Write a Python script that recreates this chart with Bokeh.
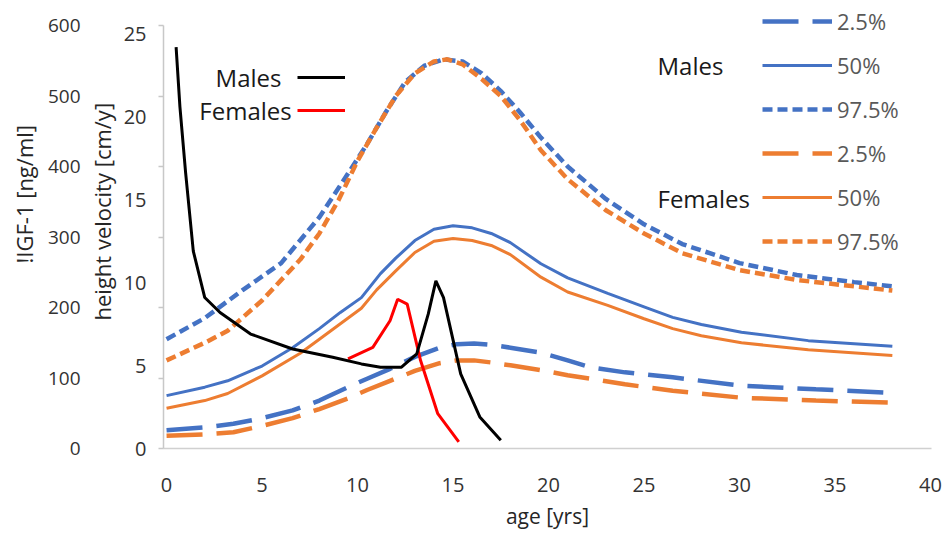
from bokeh.plotting import figure
from bokeh.models import Range1d, LinearAxis, FixedTicker, Label, Legend, LegendItem, Title
from bokeh.embed import file_html
from bokeh.resources import INLINE

# ---------------- data ----------------
age_ticks = [0, 5, 10, 15, 20, 25, 30, 35, 40]
hv_ticks = [0, 5, 10, 15, 20, 25]
igf_ticks = [0, 100, 200, 300, 400, 500, 600]

# IGF-1 [ng/ml], males
m975_age = [0, 2, 4, 6, 8, 9.5, 10.5, 11.5, 12.5, 13.5, 14.5, 15.5, 16.5, 17.5, 18.5, 19.6, 21, 23, 25, 27, 30, 33, 36, 38]
m975_val = [155, 185, 225, 263, 328, 390, 432, 478, 520, 543, 552, 549, 532, 507, 477, 441, 400, 354, 318, 290, 263, 246, 236, 230]
m50_age = [0, 2, 3.2, 5, 6.6, 8, 9.1, 10.2, 11.2, 12, 13, 14, 15, 16, 17, 18, 19.6, 21, 23.1, 25, 26.5, 28, 30.1, 33.6, 38]
m50_val = [75, 87, 96, 117, 143, 170, 193, 214, 248, 270, 295, 311, 316, 313, 305, 292, 262, 242, 220, 201, 186, 176, 165, 153, 145]
m25_age = [0, 2, 3.5, 5, 6.6, 8, 9.5, 10.5, 11.7, 13, 14.3, 15.2, 16.1, 17, 18, 19.6, 21, 22.2, 24, 26.5, 30.1, 34, 38]
m25_val = [26, 30, 35, 43, 54, 68, 87, 99, 113, 130, 143, 148, 149, 147, 143, 136, 125, 115, 108, 101, 89, 84, 79]

# IGF-1 [ng/ml], females
f975_age = [0, 2, 3.2, 5, 7, 8, 9, 10, 11, 12, 13, 14, 14.7, 15.5, 16.5, 17.5, 18.5, 19.6, 21, 23, 25, 27, 30, 33, 36, 38]
f975_val = [125, 150, 167, 210, 268, 305, 352, 408, 455, 500, 532, 549, 552, 545, 524, 500, 466, 423, 382, 338, 305, 277, 253, 239, 230, 224]
f50_age = [0, 2, 3.2, 5, 7, 8, 9.1, 10.2, 11, 12, 13, 14, 15, 16, 17, 18, 19.6, 21, 23.1, 25, 26.5, 28, 30.1, 33.6, 38]
f50_val = [57, 68, 78, 103, 135, 155, 177, 199, 225, 252, 278, 294, 298, 295, 288, 275, 243, 222, 203, 184, 170, 160, 150, 140, 132]
f25_age = [0, 2, 3.5, 5, 6.6, 8, 9.5, 10.5, 11.7, 13, 14.3, 15.2, 16.1, 17, 18, 19.6, 21, 22.2, 24, 26.5, 30.1, 34, 38]
f25_val = [18, 20, 23, 32, 43, 56, 71, 83, 96, 110, 121, 125, 125, 122, 118, 111, 104, 99, 91, 82, 72, 68, 65]

# height velocity [cm/y]
hv_m_age = [0.5, 0.7, 1.0, 1.4, 2.0, 2.8, 4.4, 6.6, 8.7, 10.2, 11.2, 12.3, 13.1, 13.7, 14.1, 14.5, 15.4, 16.4, 17.5]
hv_m_val = [24.2, 20.6, 16.6, 11.9, 9.1, 8.2, 6.9, 6.0, 5.5, 5.1, 4.9, 4.9, 5.7, 8.1, 10.1, 9.1, 4.5, 1.9, 0.5]
hv_f_age = [9.5, 10.8, 11.7, 12.1, 12.6, 13.3, 14.2, 15.3]
hv_f_val = [5.4, 6.1, 7.7, 9.0, 8.7, 5.3, 2.1, 0.4]

HV_MAX = 25.5
IGF_MAX = 600

# ---------------- styles ----------------
FONT = "Open Sans"
BLUE = "#4472C4"
ORANGE = "#ED7D31"
RED = "#FF0000"
LONG = "36 14"
SHORT = "10 5"
TOP_PAD = 448.0 / 423.0   # frame extends a little above the axes' top

p = figure(width=948, height=533, output_backend="svg", toolbar_location=None,
           x_range=Range1d(-0.16, 40.05), y_range=Range1d(0, HV_MAX * TOP_PAD),
           min_border_left=163, min_border_right=17, min_border_top=0, min_border_bottom=85)
p.extra_y_ranges = {"igf": Range1d(0, IGF_MAX * TOP_PAD)}
p.outline_line_color = None
p.grid.visible = False
p.background_fill_color = "white"
p.border_fill_color = "white"

# x axis
xa = p.xaxis[0]
xa.ticker = FixedTicker(ticks=age_ticks)
xa.axis_line_color = "#d0d0d0"
xa.axis_line_width = 1.5
xa.major_tick_out = 0
xa.major_tick_in = 0
xa.minor_tick_out = 0
xa.minor_tick_line_color = None
xa.major_label_standoff = 29
xa.major_label_text_font = FONT
xa.major_label_text_font_size = "20px"
xa.major_label_text_color = "#333333"
xa.axis_label = "age [yrs]"
xa.axis_label_standoff = 7
xa.axis_label_text_font = FONT
xa.axis_label_text_font_size = "21px"
xa.axis_label_text_font_style = "normal"
xa.axis_label_text_color = "#262626"

# inner y axis: height velocity (tick marks at IGF positions)
ya = p.yaxis[0]
ya.bounds = (0, HV_MAX)
ya.ticker = FixedTicker(ticks=hv_ticks, minor_ticks=[t * HV_MAX / IGF_MAX for t in igf_ticks])
ya.axis_line_color = "#c8c8c8"
ya.axis_line_width = 1.5
ya.major_tick_out = 0
ya.major_tick_in = 0
ya.minor_tick_out = 5
ya.minor_tick_in = 0
ya.minor_tick_line_color = "#c8c8c8"
ya.minor_tick_line_width = 1.5
ya.major_label_standoff = 12
ya.major_label_text_font = FONT
ya.major_label_text_font_size = "20px"
ya.major_label_text_color = "#333333"

# outer y axis: IGF-1
igf_ax = LinearAxis(y_range_name="igf", ticker=FixedTicker(ticks=igf_ticks), bounds=(0, IGF_MAX))
igf_ax.axis_line_color = None
igf_ax.major_tick_line_color = None
igf_ax.minor_tick_line_color = None
igf_ax.major_tick_out = 0
igf_ax.major_tick_in = 0
igf_ax.minor_tick_out = 0
igf_ax.minor_tick_in = 0
igf_ax.major_label_standoff = 1
igf_ax.major_label_text_font = FONT
igf_ax.major_label_text_font_size = "19px"
igf_ax.major_label_text_color = "#333333"

# vertical axis titles as side titles (positioned along the side with offset)
hv_title = Title(text="height velocity [cm/y]", align="left", offset=128, standoff=7,
                 text_font=FONT, text_font_size="22px", text_font_style="normal", text_color="#262626")
igf_title = Title(text="!IGF-1 [ng/ml]", align="left", offset=185, standoff=12,
                  text_font=FONT, text_font_size="22px", text_font_style="normal", text_color="#262626")
p.left = [ya, hv_title, igf_ax, igf_title]

# IGF-1 curves
r_m25 = p.line(m25_age, m25_val, y_range_name="igf", color=BLUE, line_width=4.5, line_dash=LONG)
r_m50 = p.line(m50_age, m50_val, y_range_name="igf", color=BLUE, line_width=3)
r_m975 = p.line(m975_age, m975_val, y_range_name="igf", color=BLUE, line_width=4.5, line_dash=SHORT)
r_f25 = p.line(f25_age, f25_val, y_range_name="igf", color=ORANGE, line_width=4.5, line_dash=LONG)
r_f50 = p.line(f50_age, f50_val, y_range_name="igf", color=ORANGE, line_width=3)
r_f975 = p.line(f975_age, f975_val, y_range_name="igf", color=ORANGE, line_width=4.5, line_dash=SHORT)

# height velocity curves
r_red = p.line(hv_f_age, hv_f_val, color=RED, line_width=3)
r_black = p.line(hv_m_age, hv_m_val, color="black", line_width=3)

# legend: height velocity (label texts drawn separately, left of the samples)
leg_hv = Legend(items=[LegendItem(label="", renderers=[r_black]),
                       LegendItem(label="", renderers=[r_red])],
                location=(134, 328), orientation="vertical",
                glyph_width=48, glyph_height=20, label_height=20, label_width=1,
                spacing=13, padding=0, margin=0, label_standoff=0,
                border_line_color=None, background_fill_alpha=0)
p.add_layout(leg_hv)

# legend: IGF percentiles
leg_igf = Legend(items=[LegendItem(label="2.5%", renderers=[r_m25]),
                        LegendItem(label="50%", renderers=[r_m50]),
                        LegendItem(label="97.5%", renderers=[r_m975]),
                        LegendItem(label="2.5%", renderers=[r_f25]),
                        LegendItem(label="50%", renderers=[r_f50]),
                        LegendItem(label="97.5%", renderers=[r_f975])],
                 location=(599, 192), orientation="vertical",
                 glyph_width=70, glyph_height=30, label_height=30,
                 spacing=14, padding=0, margin=0, label_standoff=5,
                 label_text_font=FONT, label_text_font_size="22px", label_text_color="#595959",
                 border_line_color=None, background_fill_alpha=0)
p.add_layout(leg_igf)

def txt(x, y, s, size, align="center"):
    p.add_layout(Label(x=x, y=y, x_units="screen", y_units="screen", text=s,
                       text_align=align, text_baseline="middle", text_font=FONT,
                       text_font_size=size, text_color="#1a1a1a"))

txt(85, 371, "Males", "24px")
txt(82, 338, "Females", "24px")
txt(494, 383, "Males", "24px", align="left")
txt(494, 250, "Females", "24px", align="left")

open("out.html", "w").write(file_html(p, INLINE))
